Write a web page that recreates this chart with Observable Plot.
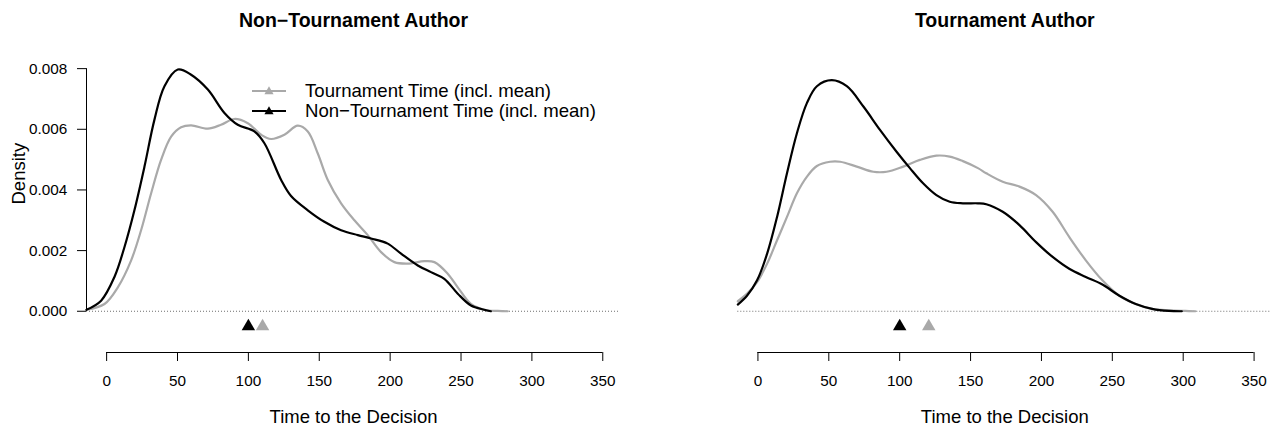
<!DOCTYPE html>
<html>
<head>
<meta charset="utf-8">
<script src="https://cdn.jsdelivr.net/npm/d3@7"></script>
<script src="https://cdn.jsdelivr.net/npm/@observablehq/plot@0.6"></script>
<style>
  body { margin: 0; background: #fff; }
  #wrap { position: relative; width: 1275px; height: 425px; display: flex;
          font-family: "Liberation Sans", Arial, Helvetica, sans-serif; }
  #wrap svg { display: block; }
  .legend { position: absolute; left: 252px; top: 81px; font-size: 18.6px; color: #000; }
  .legend .row { display: flex; align-items: center; height: 19.7px; white-space: nowrap; }
  .legend .row svg { margin-right: 19px; }
</style>
</head>
<body>
<div id="wrap"></div>
<script>
// ---------- data ----------
const panelTitles = ["Non\u2212Tournament Author", "Tournament Author"];
const seriesNames = ["Tournament Time (incl. mean)", "Non\u2212Tournament Time (incl. mean)"];
const xTicks = [0, 50, 100, 150, 200, 250, 300, 350];
const yTicks = [0, 0.002, 0.004, 0.006, 0.008];
const xLabel = "Time to the Decision";
const yLabel = "Density";

// Non-Tournament Author panel
const ntaTournTime = [-14.2, -1.5, 7.9, 17.3, 24.3, 31.4, 38.4, 45.5, 52.5, 59.6, 71.4, 80.7, 90.1, 99.6, 109, 116, 125.4, 134.8, 141.9, 148.9, 156, 165.4, 174.8, 184.2, 193.6, 203, 212.4, 224.1, 231.2, 240.6, 247.7, 257, 266.4, 275.9, 283];
const ntaTournDens = [0.00005, 0.00024, 0.00079, 0.00168, 0.00267, 0.00389, 0.00499, 0.00576, 0.00607, 0.00613, 0.00602, 0.00615, 0.00634, 0.0062, 0.00582, 0.00568, 0.00582, 0.00612, 0.00593, 0.00521, 0.00433, 0.00356, 0.003, 0.00251, 0.00195, 0.00162, 0.00157, 0.00165, 0.00162, 0.00124, 0.00079, 0.00024, 0.00005, 0.00001, 0];
const ntaNonTime = [-14.2, -3.9, 5.5, 12.6, 19.6, 26.7, 33.7, 40.8, 50.2, 59.6, 71.4, 83.1, 92.5, 104.2, 111.3, 123.1, 130.1, 141.9, 153.6, 165.4, 177.2, 186.5, 198.3, 207.7, 219.5, 228.8, 238.2, 247.7, 257, 266.4, 271];
const ntaNonDens = [0.00005, 0.00035, 0.00113, 0.00212, 0.00333, 0.00477, 0.00631, 0.00742, 0.00797, 0.0078, 0.00731, 0.00654, 0.00615, 0.00593, 0.00554, 0.00433, 0.0038, 0.00333, 0.00295, 0.00267, 0.00251, 0.0024, 0.00223, 0.0019, 0.00151, 0.00129, 0.00107, 0.00058, 0.00019, 0.00005, 0];
const ntaMeans = [110, 100]; // [tournament, non-tournament]

// Tournament Author panel
const taTournTime = [-14.2, -7.6, -0.6, 6.5, 13.5, 20.5, 27.5, 34.6, 41.6, 50.9, 58, 69.7, 81.4, 90.8, 102.5, 114.2, 125.9, 135.3, 144.6, 155.2, 161.1, 172.7, 184.5, 196.2, 207.9, 219.6, 231.3, 243, 254.7, 266.5, 278.1, 289.9, 301.6, 308.6];
const taTournDens = [0.00033, 0.00058, 0.00096, 0.00157, 0.00234, 0.00311, 0.00389, 0.00444, 0.00479, 0.00493, 0.00493, 0.00477, 0.0046, 0.0046, 0.00477, 0.00499, 0.00513, 0.0051, 0.00495, 0.00472, 0.00455, 0.00427, 0.00411, 0.00383, 0.00328, 0.00245, 0.00168, 0.00102, 0.00052, 0.00024, 0.00008, 0.00003, 0.00001, 0];
const taNonTime = [-14.2, -7.6, -0.6, 6.5, 13.5, 20.5, 27.5, 34.6, 41.6, 52.1, 62.7, 74.4, 86.1, 97.8, 107.2, 116.5, 125.9, 135.3, 144.6, 155.2, 161.1, 172.7, 184.5, 196.2, 207.9, 219.6, 231.3, 243, 254.7, 266.5, 278.1, 289.9, 299];
const taNonDens = [0.00022, 0.00052, 0.00102, 0.0019, 0.00311, 0.00455, 0.00587, 0.00687, 0.00742, 0.00762, 0.00742, 0.00675, 0.00598, 0.00526, 0.00472, 0.00422, 0.00383, 0.00361, 0.00356, 0.00356, 0.00353, 0.00328, 0.00284, 0.00228, 0.00179, 0.0014, 0.00113, 0.00088, 0.00052, 0.00024, 0.00008, 0.00001, 0];
const taMeans = [120.5, 100];

const meanMarkerY = -0.0005;
const xDomain = [-14.2, 362.5];
const yDomain = [-0.00136, 0.0084];

// ---------- styles ----------
const GRAY = "#a9a9a9", BLACK = "#000000";
const FONT = "'Liberation Sans', Arial, Helvetica, sans-serif";

const zip = (xs, ys) => xs.map((t, i) => ({t, d: ys[i]}));

function panel({title, tourn, non, means, width, marginLeft, marginRight, showY}) {
  const meanData = [
    {t: means[0], color: GRAY},
    {t: means[1], color: BLACK}
  ];
  const marks = [
    Plot.ruleY([0], {stroke: "#6e6e6e", strokeWidth: 1, strokeDasharray: "1,2"}),
    Plot.line(tourn, {x: "t", y: "d", stroke: GRAY, strokeWidth: 2.2, curve: "catmull-rom"}),
    Plot.line(non, {x: "t", y: "d", stroke: BLACK, strokeWidth: 2.2, curve: "catmull-rom"}),
    Plot.dot(meanData, {x: "t", y: () => meanMarkerY, symbol: "triangle", r: 5, fill: "color", stroke: null}),
    Plot.ruleY([yDomain[0]], {x1: xTicks[0], x2: xTicks[xTicks.length - 1], stroke: BLACK, strokeWidth: 1}),
    Plot.axisX({ticks: xTicks, tickFormat: d => String(d), tickSize: 9, tickPadding: 14, fontSize: 15.3, stroke: BLACK, fill: BLACK, label: null}),
    Plot.text([xLabel], {frameAnchor: "bottom", dy: 70.5, lineAnchor: "bottom", fontSize: 18.5, fill: BLACK}),
    Plot.text([title], {frameAnchor: "top", dy: -29.3, lineAnchor: "bottom", fontSize: 19.5, fontWeight: "bold", fill: BLACK})
  ];
  if (showY) {
    marks.push(
      Plot.ruleX([xDomain[0]], {y1: yTicks[0], y2: yTicks[yTicks.length - 1], stroke: BLACK, strokeWidth: 1}),
      Plot.axisY({ticks: yTicks, tickFormat: ".3f", tickSize: 9, tickPadding: 10.3, fontSize: 15.3, stroke: BLACK, fill: BLACK, label: null}),
      Plot.text([yLabel], {frameAnchor: "left", dx: -67.7, rotate: -90, fontSize: 18.5, fill: BLACK})
    );
  }
  return Plot.plot({
    width, height: 425,
    marginTop: 56, marginBottom: 73, marginLeft, marginRight,
    x: {domain: xDomain, axis: null, label: null},
    y: {domain: yDomain, axis: null, label: null},
    style: {fontFamily: FONT, background: "#fff", overflow: "visible", color: "#000"},
    marks
  });
}

const wrap = document.getElementById("wrap");
wrap.appendChild(panel({
  title: panelTitles[0],
  tourn: zip(ntaTournTime, ntaTournDens),
  non: zip(ntaNonTime, ntaNonDens),
  means: ntaMeans,
  width: 637, marginLeft: 86, marginRight: 17, showY: true
}));
wrap.appendChild(panel({
  title: panelTitles[1],
  tourn: zip(taTournTime, taTournDens),
  non: zip(taNonTime, taNonDens),
  means: taMeans,
  width: 638, marginLeft: 100.3, marginRight: 3.7, showY: false
}));

// legend (inside the left panel, no box)
const legend = document.createElement("div");
legend.className = "legend";
[[seriesNames[0], GRAY], [seriesNames[1], BLACK]].forEach(([name, color]) => {
  const row = document.createElement("div");
  row.className = "row";
  row.innerHTML =
    `<svg width="34" height="14" viewBox="0 0 34 14">` +
    `<line x1="0" y1="7" x2="34" y2="7" stroke="${color}" stroke-width="2.2"/>` +
    `<path d="M17,2.2 L21.6,10.2 L12.4,10.2 Z" fill="${color}"/></svg>` +
    `<span>${name}</span>`;
  legend.appendChild(row);
});
wrap.appendChild(legend);
</script>
</body>
</html>
